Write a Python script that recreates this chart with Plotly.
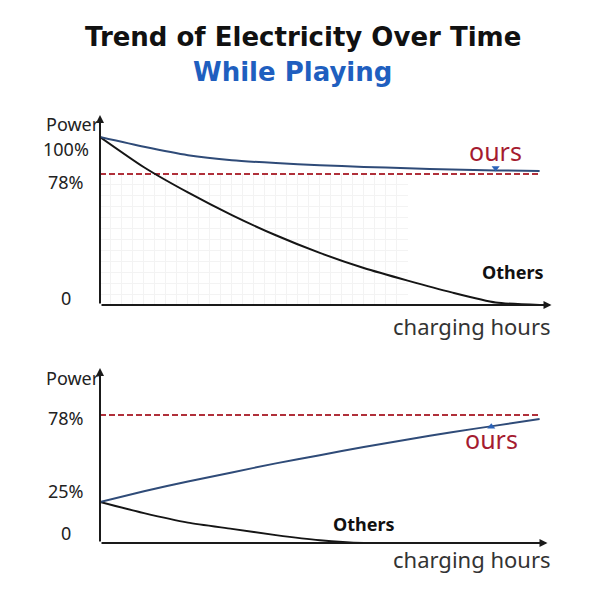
import plotly.graph_objects as go

# ---------------- data ----------------
hours = [0, 1, 2, 3, 4, 5, 6, 7, 8, 9, 10]

# top panel (while playing, starting from full)
top_ours = [100, 94.2, 89.2, 86.2, 84.5, 83.2, 82.2, 81.4, 80.6, 80.1, 79.8]
top_others = [100, 82, 67, 53.5, 41.5, 31, 22, 14.5, 7.5, 1.5, 0]
top_ref_level = 78
top_tick_vals = [0, 78, 100]
top_tick_text = ["0", "78%", "100%"]

# bottom panel (while playing, starting from 25%)
bot_ours = [25, 31.5, 37.5, 43, 48.5, 53.5, 58.5, 63, 67.5, 71.5, 75.5]
bot_others = [25, 18.2, 12.4, 8.6, 4.8, 1.7, 0, 0, 0, 0, 0]
bot_ref_level = 78
bot_tick_vals = [0, 25, 78]
bot_tick_text = ["0", "25%", "78%"]

# label anchors (hours, power)
top_ours_label = (9.0, 91.7)
top_ours_marker = (9.0, 81.6)
top_others_label = (9.4, 19.6)
bot_ours_label = (8.9, 63.4)
bot_ours_marker = (8.9, 70.8)
bot_others_label = (6.0, 11.6)

# ---------------- style ----------------
BLUE_LINE = "#2f4b78"
BLACK_LINE = "#151515"
RED_DASH = "#b0303a"
OURS_RED = "#a51b30"
MARK_BLUE = "#2a62b8"
TITLE_BLUE = "#1f5fbf"
FONT = "Noto Sans"
TITLE_FONT = "DejaVu Sans"

# page offset (default body margin of the html page)
OFF = 8
def px_x(p):
    return (p - OFF) / 600
def px_y(p):
    return 1 - (p - OFF) / 600

# tick-label vertical nudges (pixels, positive = downward), matching the artwork
top_tick_shift = [-7, 8, 12]
bot_tick_shift = [-10, -11, 3]

X_MAX = 10.35
TOP_Y_MAX = 113.1
BOT_Y_MAX = 106.6

TOP_DOM = [px_y(305), px_y(115)]
BOT_DOM = [px_y(543), px_y(368)]
X_DOM = [px_x(100), px_x(555)]

fig = go.Figure()

# faint grid (first subplot so it is drawn beneath the data panels)
fig.add_trace(go.Scatter(x=[0, 7], y=[0, 78], mode="markers", marker=dict(opacity=0),
                         xaxis="x", yaxis="y", hoverinfo="skip"))

def add_panel(xa, ya, ours, others, ref):
    fig.add_trace(go.Scatter(x=hours, y=[ref] * len(hours), mode="lines",
                             line=dict(color=RED_DASH, width=2, dash="6px,3px"),
                             xaxis=xa, yaxis=ya, hoverinfo="skip"))
    fig.add_trace(go.Scatter(x=hours, y=others, mode="lines",
                             line=dict(color=BLACK_LINE, width=2, shape="spline", smoothing=0.6),
                             xaxis=xa, yaxis=ya))
    fig.add_trace(go.Scatter(x=hours, y=ours, mode="lines",
                             line=dict(color=BLUE_LINE, width=2, shape="spline", smoothing=0.6),
                             xaxis=xa, yaxis=ya))

add_panel("x2", "y2", top_ours, top_others, top_ref_level)
add_panel("x3", "y3", bot_ours, bot_others, bot_ref_level)

# small triangle markers
fig.add_trace(go.Scatter(x=[top_ours_marker[0]], y=[top_ours_marker[1]], mode="markers",
                         marker=dict(symbol="triangle-down", size=7, color=MARK_BLUE),
                         xaxis="x2", yaxis="y2"))
fig.add_trace(go.Scatter(x=[bot_ours_marker[0]], y=[bot_ours_marker[1]], mode="markers",
                         marker=dict(symbol="triangle-up", size=7, color=MARK_BLUE),
                         xaxis="x3", yaxis="y3"))

hidden = dict(showline=False, showgrid=False, zeroline=False, showticklabels=False, ticks="")

grid_x1 = X_DOM[0] + (X_DOM[1] - X_DOM[0]) * 7 / X_MAX
grid_y1 = TOP_DOM[0] + (TOP_DOM[1] - TOP_DOM[0]) * 78 / TOP_Y_MAX

fig.update_layout(
    width=600, height=600,
    margin=dict(l=0, r=0, t=0, b=0, autoexpand=False),
    paper_bgcolor="white", plot_bgcolor="rgba(0,0,0,0)",
    showlegend=False,
    font=dict(family=FONT, color="#222"),
    xaxis=dict(domain=[X_DOM[0], grid_x1], range=[0, 7], anchor="y",
               showgrid=True, gridcolor="#f3f3f3", gridwidth=1, dtick=0.25,
               showline=False, zeroline=False, showticklabels=False, ticks=""),
    yaxis=dict(domain=[TOP_DOM[0], grid_y1], range=[0, 78], anchor="x",
               showgrid=True, gridcolor="#f3f3f3", gridwidth=1, dtick=6.5,
               showline=False, zeroline=False, showticklabels=False, ticks=""),
    xaxis2=dict(domain=X_DOM, range=[0, X_MAX], anchor="y2", **hidden),
    yaxis2=dict(domain=TOP_DOM, range=[0, TOP_Y_MAX], anchor="x2", **hidden),
    xaxis3=dict(domain=X_DOM, range=[0, X_MAX], anchor="y3", **hidden),
    yaxis3=dict(domain=BOT_DOM, range=[0, BOT_Y_MAX], anchor="x3", **hidden),
)

ann = []
C = dict(xanchor="center", yanchor="middle", showarrow=False)

# titles
ann.append(dict(text="<b>Trend of Electricity Over Time</b>", x=px_x(303), y=px_y(37),
                xref="paper", yref="paper",
                font=dict(size=26, color="#111", family=TITLE_FONT), **C))
ann.append(dict(text="<b>While Playing</b>", x=px_x(292), y=px_y(72),
                xref="paper", yref="paper",
                font=dict(size=26, color=TITLE_BLUE, family=TITLE_FONT), **C))

# axis arrows
def axis_arrows(xr, yr, x_end, y_end):
    ann.append(dict(x=x_end, y=0, ax=0, ay=0, xref=xr, yref=yr, axref=xr, ayref=yr,
                    showarrow=True, arrowhead=2, arrowsize=0.8, arrowwidth=2,
                    arrowcolor="#1a1a1a", text=""))
    ann.append(dict(x=0, y=y_end, ax=0, ay=0, xref=xr, yref=yr, axref=xr, ayref=yr,
                    showarrow=True, arrowhead=2, arrowsize=0.8, arrowwidth=2,
                    arrowcolor="#1a1a1a", text=""))

axis_arrows("x2", "y2", 10.27, TOP_Y_MAX)
axis_arrows("x3", "y3", 10.18, BOT_Y_MAX)

# tick labels
for v, t, s in zip(top_tick_vals, top_tick_text, top_tick_shift):
    ann.append(dict(text=t, x=px_x(66), y=v, xref="paper", yref="y2", yshift=-s,
                    font=dict(size=18, color="#222"), **C))
for v, t, s in zip(bot_tick_vals, bot_tick_text, bot_tick_shift):
    ann.append(dict(text=t, x=px_x(66), y=v, xref="paper", yref="y3", yshift=-s,
                    font=dict(size=18, color="#222"), **C))

# axis titles
for yp in (124, 378):
    ann.append(dict(text="Power", x=px_x(73), y=px_y(yp), xref="paper", yref="paper",
                    font=dict(size=18, color="#222"), **C))
for yp in (326, 559):
    ann.append(dict(text="charging hours", x=px_x(472), y=px_y(yp), xref="paper", yref="paper",
                    font=dict(size=22, color="#333"), **C))

# series labels
ann.append(dict(text="ours", x=top_ours_label[0], y=top_ours_label[1], xref="x2", yref="y2",
                font=dict(size=25, color=OURS_RED), **C))
ann.append(dict(text="<b>Others</b>", x=top_others_label[0], y=top_others_label[1],
                xref="x2", yref="y2", font=dict(size=18, color="#111"), **C))
ann.append(dict(text="ours", x=bot_ours_label[0], y=bot_ours_label[1], xref="x3", yref="y3",
                font=dict(size=25, color=OURS_RED), **C))
ann.append(dict(text="<b>Others</b>", x=bot_others_label[0], y=bot_others_label[1],
                xref="x3", yref="y3", font=dict(size=18, color="#111"), **C))

fig.update_layout(annotations=ann)

fig.write_html("out.html")
